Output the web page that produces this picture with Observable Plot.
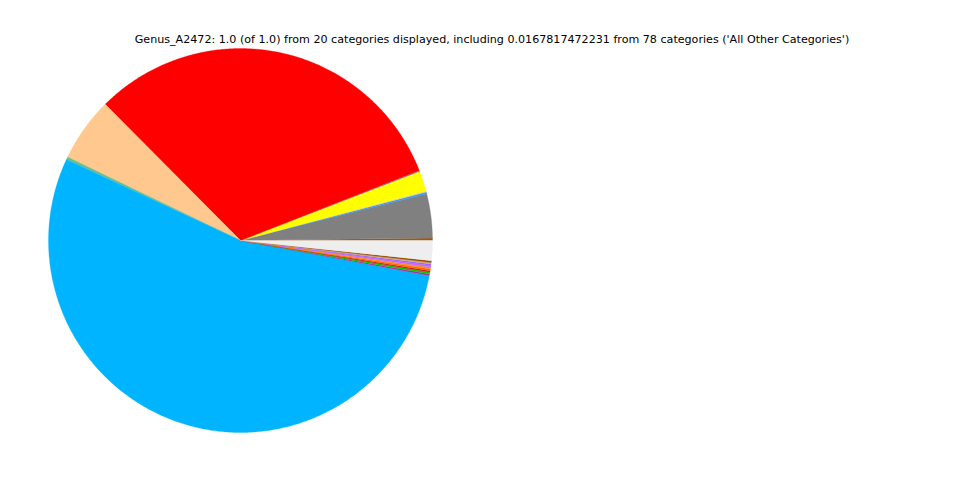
<!DOCTYPE html>
<html>
<head>
<meta charset="utf-8">
<script src="https://cdn.jsdelivr.net/npm/d3@7"></script>
<script src="https://cdn.jsdelivr.net/npm/@observablehq/plot@0.6"></script>
<style>
  html, body { margin: 0; padding: 0; background: #fff; }
  #wrap { position: relative; width: 960px; height: 480px; }
  #title { position: absolute; top: 33px; left: 0; width: 984px; text-align: center;
           font-family: "DejaVu Sans", sans-serif; font-size: 11.12px; color: #000; white-space: nowrap; }
</style>
</head>
<body>
<div id="wrap">
  <div id="chart"></div>
  <div id="title">Genus_A2472: 1.0 (of 1.0) from 20 categories displayed, including 0.0167817472231 from 78 categories ('All Other Categories')</div>
</div>
<script>
// Slices in counter-clockwise order starting at 3 o'clock (matplotlib default)
const categories = [
  "Cat01","Cat02","Cat03","Cat04","Cat05","Cat06","Cat07","Cat08","Cat09","Cat10",
  "Cat11","Cat12","Cat13","Cat14","Cat15","Cat16","Cat17","Cat18","Cat19","All Other Categories"
];
const values = [
  0.0020, 0.0372, 0.0014, 0.0008, 0.0172, 0.0008, 0.3150, 0.0539, 0.0022, 0.5400,
  0.0014, 0.0014, 0.0014, 0.0014, 0.0014, 0.0014, 0.0014, 0.0013, 0.0014, 0.0167817
];
const colors = [
  "#9a5a10", "#808080", "#3399ff", "#e8c89a", "#ffff00", "#7a8aa0", "#ff0000", "#ffc88e", "#6cbf8c", "#00b4ff",
  "#aa33aa", "#00cc00", "#cc2222", "#ff6600", "#ff8c1a", "#cc66ff", "#9966ff", "#d2a679", "#994c00", "#eeeeee"
];

const total = d3.sum(values);
const pts = [];
let acc = 0;
values.forEach((v, i) => {
  const a0 = acc / total * 2 * Math.PI;
  acc += v;
  const a1 = acc / total * 2 * Math.PI;
  const n = Math.max(2, Math.ceil((a1 - a0) / (Math.PI / 360)));
  pts.push({name: categories[i], color: colors[i], x: 0, y: 0});
  for (let k = 0; k <= n; k++) {
    const a = a0 + (a1 - a0) * k / n;
    pts.push({name: categories[i], color: colors[i], x: Math.cos(a), y: Math.sin(a)});
  }
  pts.push({name: categories[i], color: colors[i], x: 0, y: 0});
});

const chart = Plot.plot({
  width: 960,
  height: 480,
  margin: 0,
  x: {domain: [-1, 1], range: [48, 432], axis: null},
  y: {domain: [-1, 1], range: [432, 48], axis: null},
  color: {type: "identity"},
  marks: [
    Plot.line(pts, {x: "x", y: "y", z: "name", fill: "color", stroke: "color", strokeWidth: 0.3, curve: "linear"})
  ]
});
document.getElementById("chart").appendChild(chart);
</script>
</body>
</html>
